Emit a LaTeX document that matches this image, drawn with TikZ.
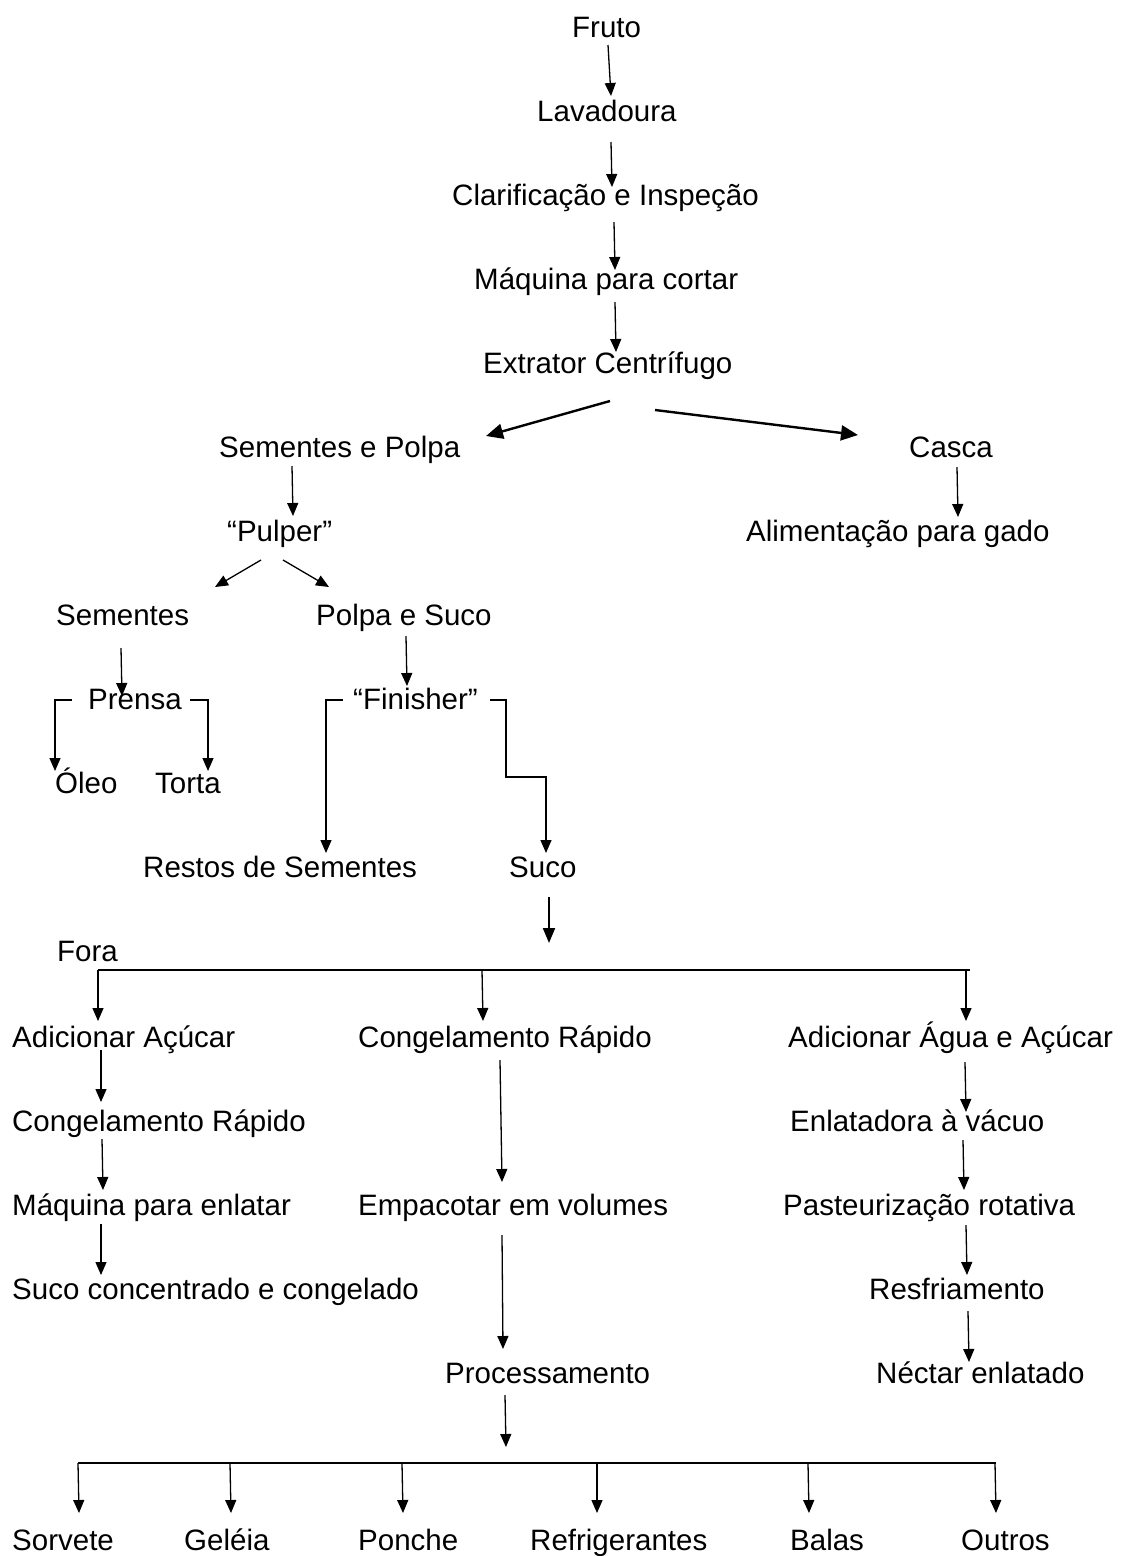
\documentclass[tikz,border=0pt]{standalone}
\usepackage{fontspec}
\setmainfont{Liberation Sans}
\usetikzlibrary{arrows.meta}
\tikzset{
  lbl/.style={anchor=base west, inner sep=0pt, font=\fontsize{29.5}{35}\selectfont},
  arr/.style={line width=1.3pt, -{Triangle[length=13pt,width=11pt]}},
  bigarr/.style={line width=2.4pt, -{Triangle[length=17pt,width=15pt]}},
  ln/.style={line width=1.3pt},
  bar/.style={line width=1.7pt},
}
\begin{document}
\begin{tikzpicture}[x=1pt,y=-1pt]
\useasboundingbox (0,0) rectangle (1122,1556);
\fill[white] (0,0) rectangle (1122,1556);
% text nodes
\node[lbl] (fruto) at (572,37) {Fruto};
\node[lbl] (lav) at (537,121) {Lavadoura};
\node[lbl] (clar) at (452,205) {Clarificação e Inspeção};
\node[lbl] (maq) at (474,289) {Máquina para cortar};
\node[lbl] (extr) at (483,373) {Extrator Centrífugo};
\node[lbl] (sp) at (219,457) {Sementes e Polpa};
\node[lbl] (casca) at (909,457) {Casca};
\node[lbl] (pulper) at (227,541) {“Pulper”};
\node[lbl] (alim) at (746,541) {Alimentação para gado};
\node[lbl] (sem) at (56,625) {Sementes};
\node[lbl] (pss) at (316,625) {Polpa e Suco};
\node[lbl] (prensa) at (88,709) {Prensa};
\node[lbl] (finisher) at (353,709) {“Finisher”};
\node[lbl] (oleo) at (55,793) {Óleo};
\node[lbl] (torta) at (155,793) {Torta};
\node[lbl] (restos) at (143,877) {Restos de Sementes};
\node[lbl] (suco) at (509,877) {Suco};
\node[lbl] (fora) at (57,961) {Fora};
\node[lbl] (aa) at (12,1047) {Adicionar Açúcar};
\node[lbl] (cr1) at (358,1047) {Congelamento Rápido};
\node[lbl] (aaa) at (788,1047) {Adicionar Água e Açúcar};
\node[lbl] (cr2) at (12,1131) {Congelamento Rápido};
\node[lbl] (enl) at (790,1131) {Enlatadora à vácuo};
\node[lbl] (maqe) at (12,1215) {Máquina para enlatar};
\node[lbl] (emp) at (358,1215) {Empacotar em volumes};
\node[lbl] (past) at (783,1215) {Pasteurização rotativa};
\node[lbl] (succ) at (12,1299) {Suco concentrado e congelado};
\node[lbl] (resf) at (869,1299) {Resfriamento};
\node[lbl] (proc) at (445,1383) {Processamento};
\node[lbl] (nect) at (876,1383) {Néctar enlatado};
\node[lbl] (sorv) at (12,1550) {Sorvete};
\node[lbl] (gel) at (184,1550) {Geléia};
\node[lbl] (ponche) at (358,1550) {Ponche};
\node[lbl] (refr) at (530,1550) {Refrigerantes};
\node[lbl] (balas) at (790,1550) {Balas};
\node[lbl] (outros) at (961,1550) {Outros};
% main chain
\draw[arr] (608,45) -- (611,96);
\draw[arr] (611,142) -- (612,187);
\draw[arr] (614,222) -- (615,270);
\draw[arr] (615,302) -- (616,352);
\draw[bigarr] (610,401) -- (486,436);
\draw[bigarr] (655,410) -- (858,435);
\draw[arr] (292,466) -- (293,516);
\draw[arr] (957,467) -- (958,517);
\draw[arr] (261,560) -- (215,587);
\draw[arr] (283,560) -- (329,587);
\draw[arr] (121,648) -- (122,696);
\draw[arr] (406,636) -- (407,686);
% Prensa split
\draw[arr] (72,700) -- (55,700) -- (55,771);
\draw[arr] (190,700) -- (208,700) -- (208,771);
% Finisher split
\draw[arr] (343,700) -- (326,700) -- (326,853);
\draw[arr] (490,700) -- (506,700) -- (506,777) -- (546,777) -- (546,853);
% Suco down
\draw[line width=2pt, -{Triangle[length=15pt,width=12pt]}] (549,897) -- (549,943);
% Fora bar
\draw[bar] (98,970) -- (970,970);
\draw[arr] (98,970) -- (98,1021);
\draw[arr] (482,970) -- (483,1021);
\draw[arr] (966,970) -- (966,1021);
% left column
\draw[arr] (101,1050) -- (101,1102);
\draw[arr] (102,1139) -- (103,1190);
\draw[arr] (101,1224) -- (101,1275);
% middle column
\draw[arr] (500,1060) -- (502,1182);
\draw[arr] (502,1235) -- (503,1349);
\draw[arr] (505,1395) -- (506,1447);
% right column
\draw[arr] (965,1062) -- (966,1112);
\draw[arr] (963,1140) -- (964,1190);
\draw[arr] (966,1225) -- (967,1275);
\draw[arr] (968,1311) -- (969,1362);
% bottom bar
\draw[bar] (78,1463) -- (996,1463);
\draw[arr] (78,1463) -- (79,1513);
\draw[arr] (230,1463) -- (231,1513);
\draw[arr] (402,1463) -- (403,1513);
\draw[arr] (597,1463) -- (597,1513);
\draw[arr] (808,1463) -- (809,1513);
\draw[arr] (995,1463) -- (996,1513);
\end{tikzpicture}
\end{document}
